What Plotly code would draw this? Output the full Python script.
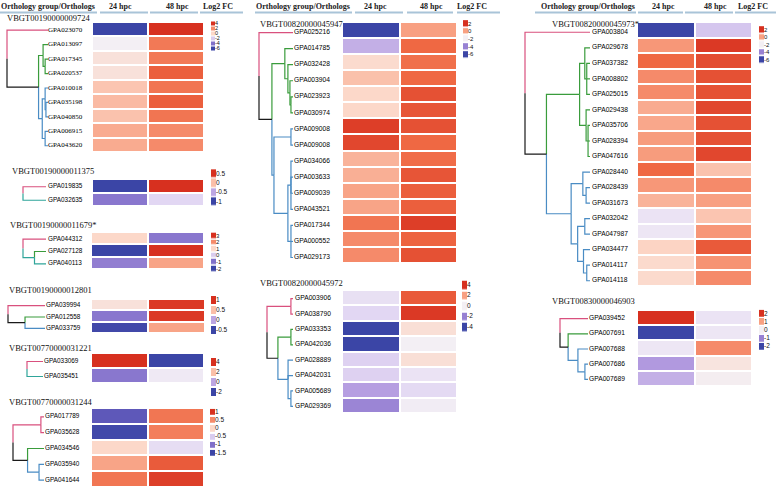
import plotly.graph_objects as go

# ---------------- data ----------------
GROUP_NAMES = ["VBGT00190000009724", "VBGT00190000011375", "VBGT00190000011679*",
               "VBGT00190000012801", "VBGT00770000031221", "VBGT00770000031244",
               "VBGT00820000045947", "VBGT00820000045972", "VBGT00820000045973*",
               "VBGT00830000046903"]
HEADERS = ["Orthology group/Orthologs", "24 hpc", "48 hpc", "Log2 FC"]

G1_GENES = ["GPA023070", "GPA013097", "GPA017345", "GPA020537", "GPA010018",
            "GPA035198", "GPA040850", "GPA006915", "GPA043620"]
G1_24 = [-6, -1, -0.4, -0.4, 0.5, 0.8, 0.6, 1.2, 1.2]
G1_48 = [4, 2.4, 2.4, 3, 2.5, 3, 2.5, 2, 2]
G1_TICKS = [4, 2, 0, -2, -4, -6]

G2_GENES = ["GPA019835", "GPA032635"]
G2_24 = [-1, -0.67]
G2_48 = [0.5, -0.37]
G2_TICKS = [0.5, 0, -0.5, -1]

G3_GENES = ["GPA044312", "GPA027128", "GPA040113"]
G3_24 = [1, -2, -0.8]
G3_48 = [-0.9, 3, 1.7]
G3_TICKS = [3, 2, 1, 0, -1, -2]

G4_GENES = ["GPA039994", "GPA012558", "GPA033759"]
G4_24 = [0.34, -0.17, -0.47]
G4_48 = [0.97, 0.97, 0.61]
G4_TICKS = [1, 0.5, 0, -0.5]

G5_GENES = ["GPA033069", "GPA035451"]
G5_24 = [4, -0.68]
G5_48 = [-2, 0.88]
G5_TICKS = [4, 2, 0, -2]

G6_GENES = ["GPA017789", "GPA035628", "GPA034546", "GPA035940", "GPA041644"]
G6_24 = [-1.22, -1.45, 0, 0.35, 0.62]
G6_48 = [0.62, 0.57, -0.4, 0.77, 0.92]
G6_TICKS = [1, 0.5, 0, -0.5, -1, -1.5]

G7_GENES = ["GPA025216", "GPA014785", "GPA032428", "GPA003904", "GPA023923",
            "GPA030974", "GPA009008", "GPA009008", "GPA034066", "GPA003633",
            "GPA009039", "GPA043521", "GPA017344", "GPA000552", "GPA029173"]
G7_24 = [-6, -3.2, -1.3, -0.7, -1.2, -1.2, 1.76, 1.6, -0.4, -0.32, -0.08, -0.08, 0.8, 0.4, 0.4]
G7_48 = [0, 1.04, 0.9, 1.04, 1.44, 1.36, 1.44, 1.04, 0.96, 1.36, 1.2, 1.2, 1.76, 1.12, 1.44]
G7_TICKS = [2, 0, -2, -4, -6]

G8_GENES = ["GPA003906", "GPA038790", "GPA033353", "GPA042036", "GPA028889",
            "GPA042031", "GPA005689", "GPA029369"]
G8_24 = [-0.4, -0.64, -4, -4, -0.72, -0.72, -1.44, -1.92]
G8_48 = [3.28, 3.84, 0.56, 0, 0.56, -0.32, -0.56, -0.08]
G8_TICKS = [4, 2, 0, -2, -4]

G9_GENES = ["GPA003804", "GPA029678", "GPA037382", "GPA008802", "GPA025015",
            "GPA029438", "GPA035706", "GPA028394", "GPA047616", "GPA028440",
            "GPA028439", "GPA031673", "GPA032042", "GPA047987", "GPA034477",
            "GPA014117", "GPA014118"]
G9_24 = [-6, 0.16, 1.04, 0.4, 0.4, -0.24, -0.16, 0.08, 0.08, 1.04, 0.16, -0.4,
         -2.32, -2.24, -1.12, -1.28, -1.28]
G9_48 = [-2.88, 1.84, 1.52, 1.44, 1.44, 1.6, 1.44, 1.44, 1.6, -0.72, 0.4, 0,
         -0.8, 0.16, 1.28, 0.24, 0.4]
G9_TICKS = [2, 0, -2, -4, -6]

G10_GENES = ["GPA039452", "GPA007691", "GPA007688", "GPA007686", "GPA007689"]
G10_24 = [2, -2, -0.12, -0.76, -0.6]
G10_48 = [-0.16, -0.12, 1.2, 0.2, 0.04]
G10_TICKS = [2, 1, 0, -1, -2]


# trees: N(relative depth, branch colour, children...), leaves = row index or L(index, colour)
def N(d, c, *ch):
    return {"d": d, "c": c, "ch": list(ch)}


def L(i, c=None):
    return {"i": i, "c": c}


G1_TREE = N(0, "black", L(0, "pink"),
            N(0.77, "black",
              N(0.88, "green", 1, N(0.93, "green", 2, 3)),
              N(0.86, "blue", N(0.93, "blue", 4, N(0.95, "blue", 5, 6)), N(0.93, "blue", 7, 8))))
G2_TREE = N(0, "black", L(0, "pink"), L(1, "teal"))
G3_TREE = N(0, "black", L(0, "pink"), N(0.5, "teal", L(1, "green"), 2))
G4_TREE = N(0, "black", L(0, "pink"), N(0.46, "black", L(1, "green"), L(2, "blue")))
G5_TREE = N(0, "black", L(0, "pink"), L(1, "teal"))
G6_TREE = N(0, "black", N(0.9, "pink", 0, 1),
            N(0.47, "black", L(2, "green"), N(0.84, "blue", 3, 4)))
G7_TREE = N(0, "black", L(0, "pink"),
            N(0.38, "black",
              N(0.76, "green", 1, N(0.85, "green", 2, N(0.91, "green", 3, N(0.94, "green", 4, 5)))),
              N(0.44, "blue", N(0.94, "blue", 6, 7),
                N(0.85, "blue", N(0.94, "blue", 8, 9, 10, 11), N(0.94, "blue", 12, 13, 14)))))
G8_TREE = N(0, "black", N(0.92, "pink", 0, 1),
            N(0.42, "black", N(0.92, "green", 2, 3), N(0.81, "blue", 4, 5, N(0.92, "blue", 6, 7))))
G9_TREE = N(0, "black", L(0, "pink"),
            N(0.33, "black",
              N(0.84, "green", N(0.92, "green", 1, N(0.95, "green", 2, 3, 4)),
                N(0.94, "green", 5, N(0.97, "green", 6, 7, 8))),
              N(0.71, "blue", N(0.89, "blue", 9, N(0.94, "blue", 10, 11)),
                N(0.81, "blue", N(0.92, "blue", 12, 13),
                  N(0.9, "blue", 14, N(0.95, "blue", 15, 16))))))
G10_TREE = N(0, "black", L(0, "pink"),
             N(0.29, "black", L(1, "green"), N(0.64, "blue", 2, N(0.89, "blue", 3, 4))))

GROUP_DATA = [
    (G1_GENES, G1_24, G1_48, G1_TICKS, G1_TREE),
    (G2_GENES, G2_24, G2_48, G2_TICKS, G2_TREE),
    (G3_GENES, G3_24, G3_48, G3_TICKS, G3_TREE),
    (G4_GENES, G4_24, G4_48, G4_TICKS, G4_TREE),
    (G5_GENES, G5_24, G5_48, G5_TICKS, G5_TREE),
    (G6_GENES, G6_24, G6_48, G6_TICKS, G6_TREE),
    (G7_GENES, G7_24, G7_48, G7_TICKS, G7_TREE),
    (G8_GENES, G8_24, G8_48, G8_TICKS, G8_TREE),
    (G9_GENES, G9_24, G9_48, G9_TICKS, G9_TREE),
    (G10_GENES, G10_24, G10_48, G10_TICKS, G10_TREE),
]

# ---------------- styles / placement ----------------
W, H = 778, 488
CS = [[0, "#3b45a6"], [0.15, "#6a5ec0"], [0.30, "#ad93dd"], [0.42, "#e2d7f3"],
      [0.5, "#f3eff4"], [0.6, "#fcd8c9"], [0.75, "#f8a082"], [0.88, "#ef6843"],
      [1, "#d7301f"]]
BRANCH = dict(pink="#d9507e", green="#3a9c3c", blue="#4a8cc4", teal="#2fa59a", black="#1a1a1a")
SERIF = "Liberation Serif"
SANS = "Liberation Sans"

# title(x,y), heat(left,cellw,top,rowh), tree(start,tip), label(x, dy, serif, size), legend(x,y,step,w,h,fs)
PLACE = [
    dict(t=(5, 17.5), h=(92, 56, 22, 14.44), tr=(7, 48), lab=(50, 1, True, 7), leg=(211, 24, 5, 4, 4, 5.5)),
    dict(t=(10, 171), h=(92, 56, 179, 13.5), tr=(23, 46), lab=(50, 1, False, 6.4), leg=(211, 174, 9.3, 5, 8, 6.5)),
    dict(t=(8, 225), h=(91, 56.5, 232, 12.33), tr=(23, 46), lab=(50, 1, False, 6.4), leg=(211, 236, 6.6, 5, 5, 6)),
    dict(t=(7, 290), h=(91, 57, 299, 11.33), tr=(8, 45), lab=(48, 1, False, 6.4), leg=(211, 300, 10, 5, 8, 6.5)),
    dict(t=(7, 348), h=(91, 56.5, 353, 15), tr=(27, 43), lab=(46, 1, False, 6.4), leg=(211, 362, 10, 5, 8, 6.5)),
    dict(t=(7, 402), h=(91, 56.5, 408, 15.8), tr=(13, 44), lab=(47, 1, False, 6.4), leg=(210, 412, 8.2, 5, 6, 6.5)),
    dict(t=(258, 24), h=(342, 57.5, 22, 16.07), tr=(259, 293), lab=(296, 2.5, False, 6.7), leg=(463, 24, 7.7, 5, 6, 6)),
    dict(t=(258, 283), h=(342, 57.5, 290, 15.375), tr=(267, 293), lab=(297, 1, False, 6.7), leg=(462, 285, 10.5, 5, 8, 6.5)),
    dict(t=(550, 24), h=(637, 57.5, 22, 15.53), tr=(525, 590), lab=(594, 2.5, False, 6.7), leg=(759, 30, 7.6, 5, 6, 6)),
    dict(t=(550, 301), h=(637, 57.5, 310, 15.2), tr=(560, 588), lab=(591, 1, False, 6.7), leg=(759, 314, 8.2, 5, 7, 6.5)),
]
HEADER_POS = [  # per column: centres of header texts and underline segments
    dict(tx=[48, 120, 177, 218], seg=[(0, 97), (100, 148), (150, 198), (200, 243)]),
    dict(tx=[303, 375, 431, 472], seg=[(255, 352), (355, 403), (407, 453), (457, 500)]),
    dict(tx=[588, 663, 715, 753], seg=[(535, 636), (638, 683), (685, 733), (735, 776)]),
]

fig = go.Figure()
segs = {k: ([], []) for k in BRANCH}


def walk(node, inherit, X, Y, tip):
    if isinstance(node, int) or "i" in node:
        idx = node if isinstance(node, int) else node["i"]
        col = inherit if isinstance(node, int) or node["c"] is None else node["c"]
        return Y(idx), tip, col
    nx = X(node["d"])
    kids = [walk(ch, node["c"], X, Y, tip) for ch in node["ch"]]
    ny = (kids[0][0] + kids[-1][0]) / 2
    for cy, cx, cc in kids:
        xs, ys = segs[cc]
        xs += [nx, nx, cx, None]
        ys += [ny, cy, cy, None]
    return ny, nx, node["c"]


annotations = []
shapes = []

for (genes, v24, v48, ticks, tree), p, name in zip(GROUP_DATA, PLACE, GROUP_NAMES):
    hx, cw, top, rh = p["h"]
    zmin, zmax = min(ticks), max(ticks)
    fig.add_trace(go.Heatmap(
        z=[[a, b] for a, b in zip(v24, v48)], x0=hx + cw / 2, dx=cw, y0=top + rh / 2, dy=rh,
        colorscale=CS, zmin=zmin, zmax=zmax, showscale=False, xgap=2, ygap=2,
        hoverinfo="skip"))
    # dendrogram
    ts, tt = p["tr"]
    lx, ldy, serif, lfs = p["lab"]
    walk(tree, "black", lambda d, ts=ts, tt=tt: ts + d * (tt - ts),
         lambda i, top=top, rh=rh, ldy=ldy: top + (i + 0.5) * rh + ldy, tt)
    # gene labels
    fig.add_trace(go.Scatter(
        x=[lx - 2] * len(genes), y=[top + (i + 0.5) * rh + ldy for i in range(len(genes))],
        text=genes, mode="text", textposition="middle right",
        textfont=dict(family=SERIF if serif else SANS, size=lfs, color="#000"),
        hoverinfo="skip", showlegend=False))
    # title
    annotations.append(dict(x=p["t"][0], y=p["t"][1], text=name, showarrow=False,
                            xanchor="left", yanchor="middle", xref="x", yref="y",
                            font=dict(family=SERIF, size=8.5, color="#111")))
    # legend
    gx, gy, gs, gw, gh, gfs = p["leg"]
    fig.add_trace(go.Heatmap(
        z=[[t] for t in ticks], x0=gx + gw / 2, dx=gw, y0=gy, dy=gs,
        colorscale=CS, zmin=zmin, zmax=zmax, showscale=False, ygap=max(gs - gh, 0),
        hoverinfo="skip"))
    fig.add_trace(go.Scatter(
        x=[gx + gw] * len(ticks), y=[gy + k * gs for k in range(len(ticks))],
        text=[f"{t:g}" for t in ticks], mode="text", textposition="middle right",
        textfont=dict(family=SANS, size=gfs, color="#111"),
        hoverinfo="skip", showlegend=False))

for key, (xs, ys) in segs.items():
    fig.add_trace(go.Scatter(x=xs, y=ys, mode="lines",
                             line=dict(color=BRANCH[key], width=1.2),
                             hoverinfo="skip", showlegend=False))

for hp in HEADER_POS:
    for txt, cx in zip(HEADERS, hp["tx"]):
        annotations.append(dict(x=cx, y=6, text=f"<b>{txt}</b>", showarrow=False,
                                xanchor="center", yanchor="middle", xref="x", yref="y",
                                font=dict(family=SERIF, size=8, color="#222")))
    for x0, x1 in hp["seg"]:
        shapes.append(dict(type="line", x0=x0, x1=x1, y0=12.5, y1=12.5, xref="x", yref="y",
                           line=dict(color="#a9c4d8", width=2)))

fig.update_layout(
    width=W, height=H, margin=dict(l=0, r=0, t=0, b=0),
    paper_bgcolor="white", plot_bgcolor="white", showlegend=False,
    xaxis=dict(range=[0, W], visible=False, fixedrange=True),
    yaxis=dict(range=[H, 0], visible=False, fixedrange=True),
    annotations=annotations, shapes=shapes,
)
fig.write_html("out.html", config={"displayModeBar": False, "staticPlot": True},
               post_script="document.body.style.margin='0';document.body.style.overflow='hidden';")
